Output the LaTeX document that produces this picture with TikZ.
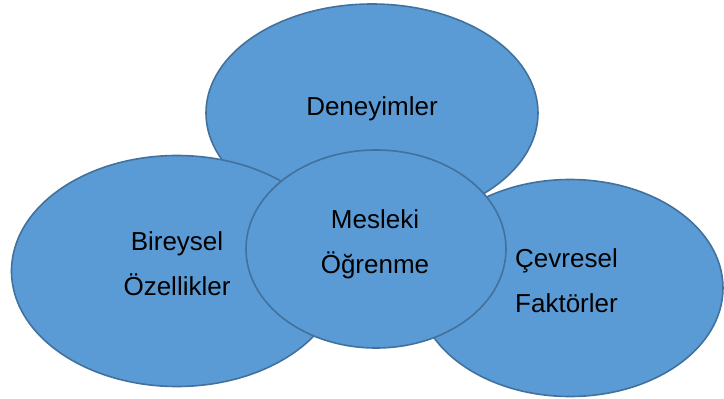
\documentclass[tikz,border=0pt]{standalone}
\usepackage{fontspec}
\setmainfont{Liberation Sans}
\usetikzlibrary{shapes.geometric}
\definecolor{bubblefill}{HTML}{5B9BD5}
\definecolor{bubbleline}{HTML}{41719C}
\begin{document}
\begin{tikzpicture}[x=1pt,y=-1pt,
  bubble/.style={ellipse, draw=bubbleline, fill=bubblefill, line width=1.6pt, inner sep=0pt},
  lbl/.style={font=\fontsize{26}{45}\selectfont, inner sep=0pt}]
  \useasboundingbox (0,0) rectangle (724,399);
  % outer bubbles, back to front
  \node[bubble, minimum width=332pt, minimum height=218pt] (deney) at (372,113) {};
  \node[bubble, minimum width=331pt, minimum height=231pt] (birey) at (177,271) {};
  \node[bubble, minimum width=306pt, minimum height=217pt] (cevre) at (570,288) {};
  % central bubble
  \node[bubble, minimum width=260pt, minimum height=198pt] (mesleki) at (376,249) {};
  % labels (base anchor of a two-line label sits on its last line)
  \node[lbl, anchor=base] (tDeney) at (372,115) {Deneyimler};
  \node[lbl, anchor=base, align=center] (tBirey) at (177,295) {Bireysel\\Özellikler};
  \node[lbl, anchor=base, align=center] (tMesleki) at (375,273) {Mesleki\\Öğrenme};
  \node[lbl, anchor=base west, align=left] (tCevre) at (515,312) {Çevresel\\Faktörler};
\end{tikzpicture}
\end{document}
